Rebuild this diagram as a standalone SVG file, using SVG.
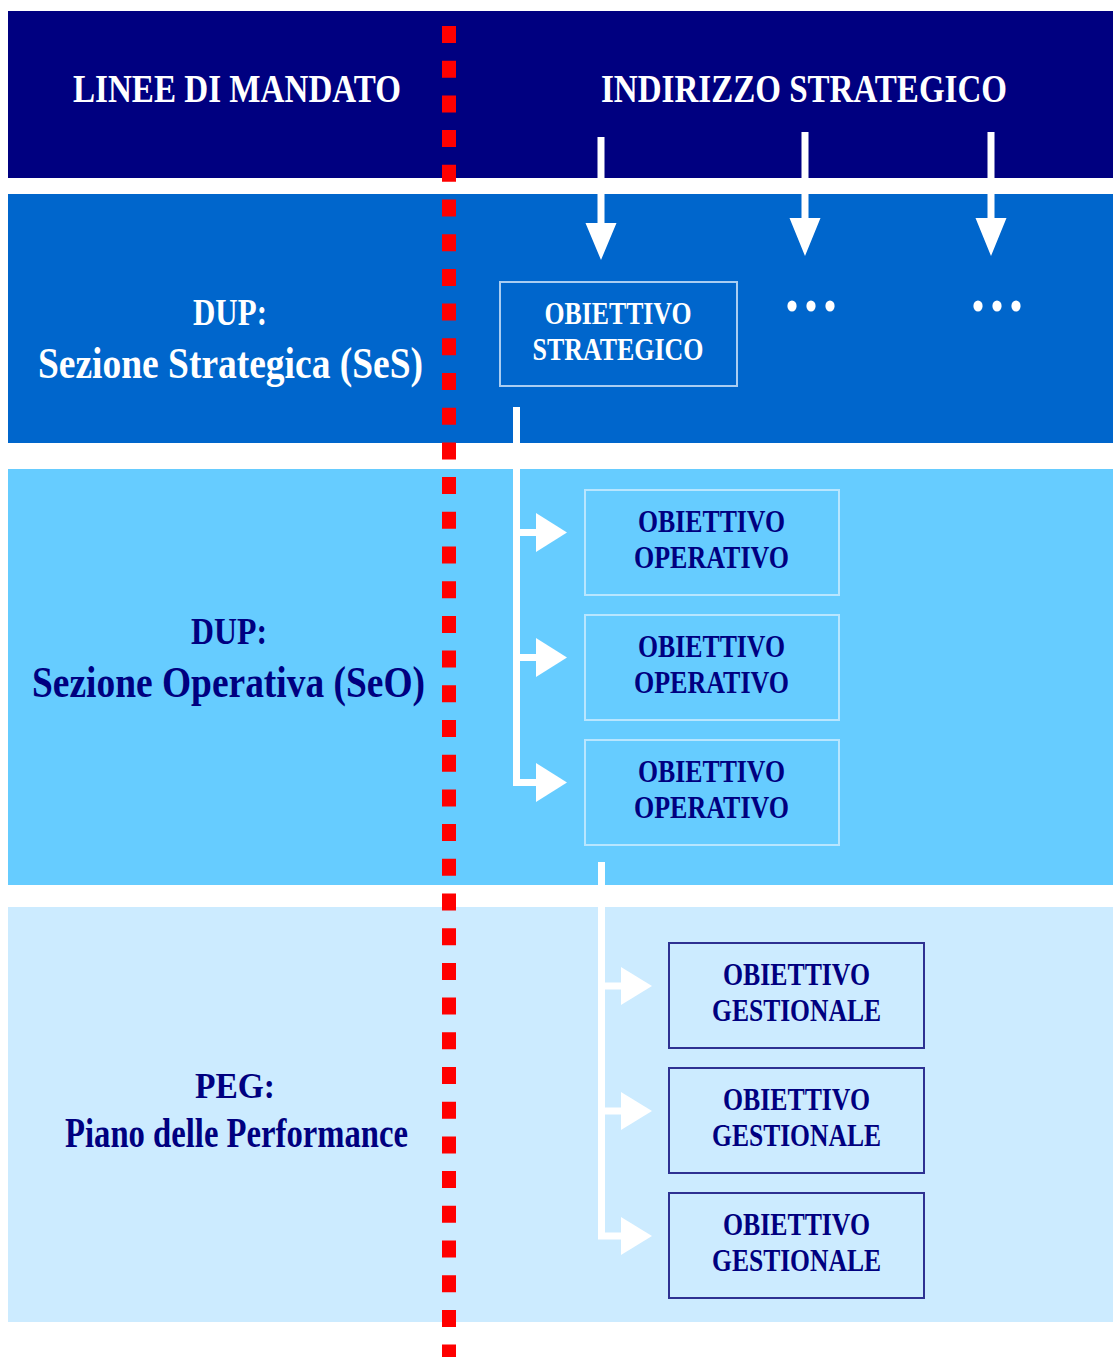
<svg xmlns="http://www.w3.org/2000/svg" width="1113" height="1357" viewBox="0 0 1113 1357">
<style>
  .t { font-family: "Liberation Serif", "Times New Roman", serif; font-weight: bold; text-anchor: middle; }
  .w { fill: #ffffff; }
  .n { fill: #000080; }
  .bx { font-size: 31.5px; }
  .conn { fill: none; stroke: #ffffff; stroke-width: 7; }
  .head { fill: #ffffff; }
  .boxS { fill: #0066CC; stroke: #A9CDF2; stroke-width: 2; }
  .boxO { fill: #66CCFF; stroke: #B8E6FF; stroke-width: 2; }
  .boxG { fill: #CCEBFF; stroke: #2E3192; stroke-width: 2; }
</style>
<rect width="1113" height="1357" fill="#ffffff"/>
<g id="bands">
  <rect id="band-header" x="8" y="11" width="1105" height="167" fill="#000080"/>
  <rect id="band-ses" x="8" y="194" width="1105" height="249" fill="#0066CC"/>
  <rect id="band-seo" x="8" y="469" width="1105" height="416" fill="#66CCFF"/>
  <rect id="band-peg" x="8" y="907" width="1105" height="415" fill="#CCEBFF"/>
</g>
<g id="labels">
  <text class="t w" x="237" y="102" font-size="40" textLength="328" lengthAdjust="spacingAndGlyphs">LINEE DI MANDATO</text>
  <text class="t w" x="804" y="102" font-size="40" textLength="406" lengthAdjust="spacingAndGlyphs">INDIRIZZO STRATEGICO</text>
  <text class="t w" x="230" y="325" font-size="37" textLength="74" lengthAdjust="spacingAndGlyphs">DUP:</text>
  <text class="t w" x="230.5" y="378" font-size="45" textLength="385" lengthAdjust="spacingAndGlyphs">Sezione Strategica (SeS)</text>
  <text class="t n" x="229" y="644" font-size="37" textLength="76" lengthAdjust="spacingAndGlyphs">DUP:</text>
  <text class="t n" x="228.5" y="697" font-size="45" textLength="393" lengthAdjust="spacingAndGlyphs">Sezione Operativa (SeO)</text>
  <text class="t n" x="235" y="1098" font-size="36" textLength="80" lengthAdjust="spacingAndGlyphs">PEG:</text>
  <text class="t n" x="236.5" y="1147" font-size="43" textLength="343" lengthAdjust="spacingAndGlyphs">Piano delle Performance</text>
</g>
<g id="divider">
  <line x1="449" y1="26" x2="449" y2="1357" stroke="#FF0000" stroke-width="14" stroke-dasharray="17 17.7"/>
</g>
<g id="connectors">
  <path class="head" d="M597.5,137 H604.5 V223 H616.5 L601,260 L585.5,223 H597.5 Z"/>
  <path class="head" d="M801.5,132 H808.5 V218 H820.5 L805,256 L789.5,218 H801.5 Z"/>
  <path class="head" d="M987.5,132 H994.5 V218 H1006.5 L991,256 L975.5,218 H987.5 Z"/>
  <path class="conn" d="M516.5,407 V782.5 H540 M516.5,532.5 H540 M516.5,657.5 H540"/>
  <path class="head" d="M536,513 L567,532.5 L536,552 Z"/>
  <path class="head" d="M536,638 L567,657.5 L536,677 Z"/>
  <path class="head" d="M536,763 L567,782.5 L536,802 Z"/>
  <path class="conn" d="M601.5,862 V1236 H625 M601.5,986 H625 M601.5,1111 H625"/>
  <path class="head" d="M621,967 L652,986 L621,1005 Z"/>
  <path class="head" d="M621,1092 L652,1111 L621,1130 Z"/>
  <path class="head" d="M621,1217 L652,1236 L621,1255 Z"/>
</g>
<g id="more-2">
  <ellipse cx="792" cy="306" rx="4.6" ry="5.6" fill="#ffffff"/>
  <ellipse cx="811" cy="306" rx="4.6" ry="5.6" fill="#ffffff"/>
  <ellipse cx="830" cy="306" rx="4.6" ry="5.6" fill="#ffffff"/>
</g>
<g id="more-3">
  <ellipse cx="978" cy="306" rx="4.6" ry="5.6" fill="#ffffff"/>
  <ellipse cx="997" cy="306" rx="4.6" ry="5.6" fill="#ffffff"/>
  <ellipse cx="1016" cy="306" rx="4.6" ry="5.6" fill="#ffffff"/>
</g>
<g id="obiettivo-strategico">
  <rect class="boxS" x="500" y="282" width="237" height="104"/>
  <text class="t w bx" x="618" y="324" textLength="147" lengthAdjust="spacingAndGlyphs">OBIETTIVO</text>
  <text class="t w bx" x="618" y="360" textLength="171" lengthAdjust="spacingAndGlyphs">STRATEGICO</text>
</g>
<g id="obiettivo-operativo-1">
  <rect class="boxO" x="585" y="490" width="254" height="105"/>
  <text class="t n bx" x="711.5" y="532" textLength="147" lengthAdjust="spacingAndGlyphs">OBIETTIVO</text>
  <text class="t n bx" x="711.5" y="568" textLength="155" lengthAdjust="spacingAndGlyphs">OPERATIVO</text>
</g>
<g id="obiettivo-operativo-2">
  <rect class="boxO" x="585" y="615" width="254" height="105"/>
  <text class="t n bx" x="711.5" y="657" textLength="147" lengthAdjust="spacingAndGlyphs">OBIETTIVO</text>
  <text class="t n bx" x="711.5" y="693" textLength="155" lengthAdjust="spacingAndGlyphs">OPERATIVO</text>
</g>
<g id="obiettivo-operativo-3">
  <rect class="boxO" x="585" y="740" width="254" height="105"/>
  <text class="t n bx" x="711.5" y="782" textLength="147" lengthAdjust="spacingAndGlyphs">OBIETTIVO</text>
  <text class="t n bx" x="711.5" y="818" textLength="155" lengthAdjust="spacingAndGlyphs">OPERATIVO</text>
</g>
<g id="obiettivo-gestionale-1">
  <rect class="boxG" x="669" y="943" width="255" height="105"/>
  <text class="t n bx" x="796.5" y="985" textLength="147" lengthAdjust="spacingAndGlyphs">OBIETTIVO</text>
  <text class="t n bx" x="796.5" y="1021" textLength="169" lengthAdjust="spacingAndGlyphs">GESTIONALE</text>
</g>
<g id="obiettivo-gestionale-2">
  <rect class="boxG" x="669" y="1068" width="255" height="105"/>
  <text class="t n bx" x="796.5" y="1110" textLength="147" lengthAdjust="spacingAndGlyphs">OBIETTIVO</text>
  <text class="t n bx" x="796.5" y="1146" textLength="169" lengthAdjust="spacingAndGlyphs">GESTIONALE</text>
</g>
<g id="obiettivo-gestionale-3">
  <rect class="boxG" x="669" y="1193" width="255" height="105"/>
  <text class="t n bx" x="796.5" y="1235" textLength="147" lengthAdjust="spacingAndGlyphs">OBIETTIVO</text>
  <text class="t n bx" x="796.5" y="1271" textLength="169" lengthAdjust="spacingAndGlyphs">GESTIONALE</text>
</g>
</svg>
